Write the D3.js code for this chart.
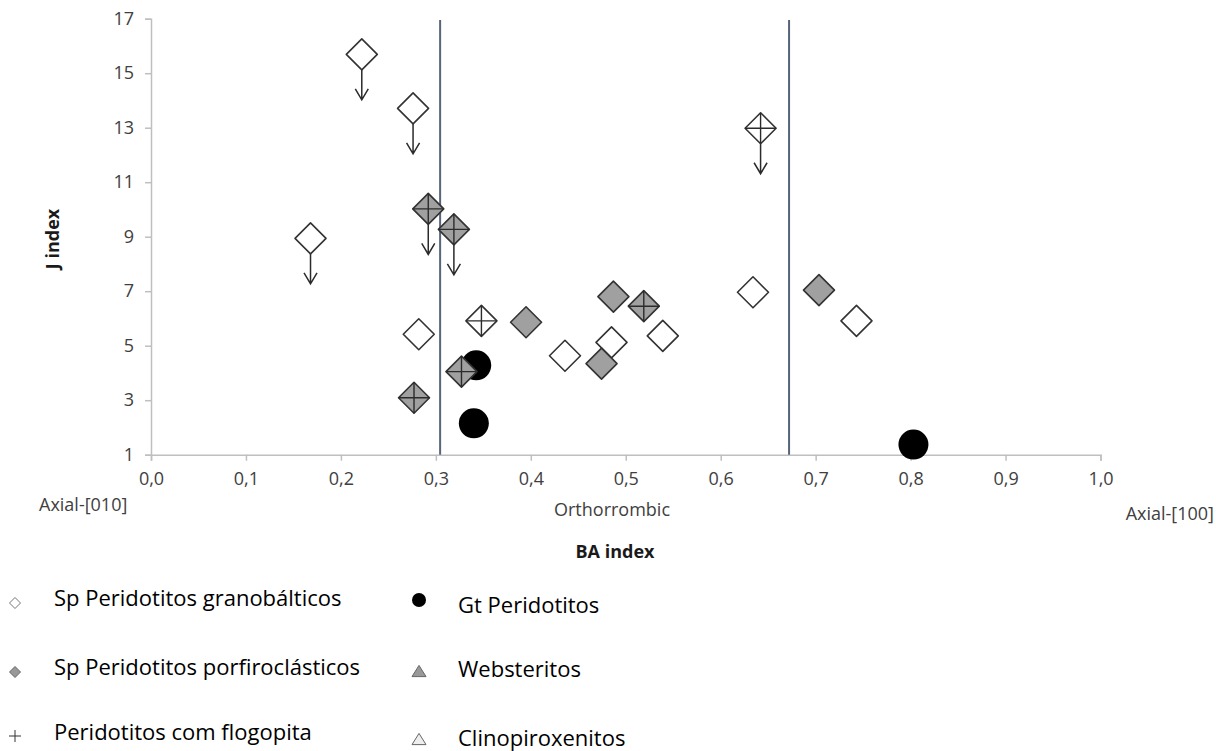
<!DOCTYPE html>
<html>
<head>
<meta charset="utf-8">
<script src="https://cdn.jsdelivr.net/npm/d3@7"></script>
<style>
  body { margin: 0; background: #fff; }
  text { font-family: "Open Sans", sans-serif; }
</style>
</head>
<body>
<svg id="chart" width="1216" height="751"></svg>
<script>
// DATA
// Sp Peridotitos granobálticos (open diamonds); limit = upper-limit arrow
var granoBA    = [0.222, 0.276, 0.168, 0.282, 0.436, 0.485, 0.539, 0.634, 0.743];
var granoJ     = [15.69, 13.71, 8.94, 5.42, 4.63, 5.12, 5.36, 6.96, 5.91];
var granoLimit = [true, true, true, false, false, false, false, false, false];
// open diamonds with phlogopite cross
var granoFlogBA    = [0.642, 0.348];
var granoFlogJ     = [12.98, 5.91];
var granoFlogLimit = [true, false];
// Sp Peridotitos porfiroclásticos (grey diamonds)
var porfBA = [0.395, 0.487, 0.4745, 0.7035];
var porfJ  = [5.86, 6.80, 4.34, 7.04];
// grey diamonds with phlogopite cross
var porfFlogBA    = [0.292, 0.319, 0.327, 0.277, 0.519];
var porfFlogJ     = [10.02, 9.27, 4.05, 3.09, 6.45];
var porfFlogLimit = [true, true, false, false, false];
// Gt Peridotitos (black circles)
var gtBA = [0.3425, 0.340, 0.803];
var gtJ  = [4.28, 2.15, 1.37];
// field boundaries on BA index
var boundaries = [0.3045, 0.672];

var xTicks = [0, 0.1, 0.2, 0.3, 0.4, 0.5, 0.6, 0.7, 0.8, 0.9, 1.0];
var yTicks = [1, 3, 5, 7, 9, 11, 13, 15, 17];

var legendCol1 = ["Sp Peridotitos granobálticos", "Sp Peridotitos porfiroclásticos", "Peridotitos com flogopita"];
var legendCol2 = ["Gt Peridotitos", "Websteritos", "Clinopiroxenitos"];

// LAYOUT
var svg = d3.select("#chart");
var x = d3.scaleLinear().domain([0, 1]).range([151, 1100.5]);
var y = d3.scaleLinear().domain([1, 17]).range([454.7, 18.7]);
var axisColor = "#bfbfbf", labelColor = "#404040";
var half = 15.5;   // diamond half diagonal
var arrowLen = 30;

var zip = function(xs, ys, lim) {
  return xs.map(function(v, i) { return {x: v, y: ys[i], limit: lim ? lim[i] : false}; });
};

// axes
var xAxis = svg.append("g").attr("transform", "translate(0," + y(1) + ")")
  .call(d3.axisBottom(x).tickValues(xTicks).tickSize(6).tickPadding(12)
    .tickFormat(function(d) { return d3.format(".1f")(d).replace(".", ","); }));
var yAxis = svg.append("g").attr("transform", "translate(" + x(0) + ",0)")
  .call(d3.axisLeft(y).tickValues(yTicks).tickSize(6).tickPadding(11));
[xAxis, yAxis].forEach(function(a) {
  a.select(".domain").attr("stroke", axisColor).attr("stroke-width", 1.5);
  a.selectAll(".tick line").attr("stroke", axisColor).attr("stroke-width", 1.5);
  a.selectAll(".tick text").attr("fill", labelColor).style("font-size", "18px")
    .style("font-family", "'Open Sans', sans-serif");
});

// boundary lines
svg.selectAll(".bound").data(boundaries).enter().append("line")
  .attr("x1", function(d) { return x(d); }).attr("x2", function(d) { return x(d); })
  .attr("y1", 20).attr("y2", y(1))
  .attr("stroke", "#56657a").attr("stroke-width", 2);

// marker helpers
var diamondPath = function(d) {
  var cx = x(d.x), cy = y(d.y);
  return "M" + cx + "," + (cy - half) + "L" + (cx + half) + "," + cy +
         "L" + cx + "," + (cy + half) + "L" + (cx - half) + "," + cy + "Z";
};
var crossPath = function(d) {
  var cx = x(d.x), cy = y(d.y);
  return "M" + (cx - half) + "," + cy + "H" + (cx + half) +
         "M" + cx + "," + (cy - half) + "V" + (cy + half);
};
var arrowPath = function(d) {
  var cx = x(d.x), top = y(d.y) + half, tip = top + arrowLen;
  return "M" + cx + "," + top + "V" + tip +
         "M" + (cx - 6.5) + "," + (tip - 11) + "L" + cx + "," + tip + "L" + (cx + 6.5) + "," + (tip - 11);
};

var drawDiamonds = function(data, fill, cross) {
  var g = svg.append("g");
  g.selectAll(".arrow").data(data.filter(function(d) { return d.limit; })).enter()
    .append("path").attr("d", arrowPath)
    .attr("fill", "none").attr("stroke", "#2b2b2b").attr("stroke-width", 1.5);
  g.selectAll(".dia").data(data).enter().append("path")
    .attr("d", diamondPath).attr("fill", fill)
    .attr("stroke", "#333").attr("stroke-width", 1.6).attr("stroke-linejoin", "round");
  if (cross) {
    g.selectAll(".cross").data(data).enter().append("path")
      .attr("d", crossPath).attr("fill", "none")
      .attr("stroke", "#2b2b2b").attr("stroke-width", 1.4);
  }
};

// Gt circles first (behind)
svg.append("g").selectAll("circle").data(zip(gtBA, gtJ)).enter().append("circle")
  .attr("cx", function(d) { return x(d.x); }).attr("cy", function(d) { return y(d.y); })
  .attr("r", 15).attr("fill", "#000");

drawDiamonds(zip(granoBA, granoJ, granoLimit), "#fff", false);
drawDiamonds(zip(granoFlogBA, granoFlogJ, granoFlogLimit), "#fff", true);
drawDiamonds(zip(porfBA, porfJ), "#a0a0a0", false);
drawDiamonds(zip(porfFlogBA, porfFlogJ, porfFlogLimit), "#a0a0a0", true);

// axis titles and annotations
svg.append("text").attr("x", 39).attr("y", 511).attr("fill", labelColor)
  .style("font-size", "18px").text("Axial-[010]");
svg.append("text").attr("x", 612).attr("y", 516).attr("text-anchor", "middle").attr("fill", labelColor)
  .style("font-size", "18px").text("Orthorrombic");
svg.append("text").attr("x", 1214).attr("y", 520).attr("text-anchor", "end").attr("fill", labelColor)
  .style("font-size", "18px").text("Axial-[100]");
svg.append("text").attr("x", 615).attr("y", 558).attr("text-anchor", "middle").attr("fill", "#1a1a1a")
  .style("font-size", "18px").style("font-weight", "bold").text("BA index");
svg.append("text").attr("transform", "translate(59,239) rotate(-90)").attr("text-anchor", "middle")
  .attr("fill", "#1a1a1a").style("font-size", "18px").style("font-weight", "bold").text("J index");

// legend
var rowY1 = [606, 675, 740], rowY2 = [613, 677, 746];
var lg = svg.append("g");
lg.selectAll(".l1").data(legendCol1).enter().append("text")
  .attr("x", 54).attr("y", function(d, i) { return rowY1[i]; })
  .style("font-size", "22px").attr("fill", "#000").text(function(d) { return d; });
lg.selectAll(".l2").data(legendCol2).enter().append("text")
  .attr("x", 458).attr("y", function(d, i) { return rowY2[i]; })
  .style("font-size", "22px").attr("fill", "#000").text(function(d) { return d; });

var smallDia = function(cx, cy, h) {
  return "M" + cx + "," + (cy - h) + "L" + (cx + h) + "," + cy + "L" + cx + "," + (cy + h) + "L" + (cx - h) + "," + cy + "Z";
};
var tri = function(cx, cy, s) {
  return "M" + (cx - s) + "," + (cy + s * 0.8) + "L" + cx + "," + (cy - s * 0.8) + "L" + (cx + s) + "," + (cy + s * 0.8) + "Z";
};
lg.append("path").attr("d", smallDia(15, 603, 5.5)).attr("fill", "#fff").attr("stroke", "#777").attr("stroke-width", 1);
lg.append("path").attr("d", smallDia(15, 672, 5.5)).attr("fill", "#999").attr("stroke", "#666").attr("stroke-width", 1);
lg.append("path").attr("d", "M9,736H21M15,730V742").attr("stroke", "#333").attr("stroke-width", 1);
lg.append("circle").attr("cx", 419).attr("cy", 600).attr("r", 7).attr("fill", "#000");
lg.append("path").attr("d", tri(419, 671, 7)).attr("fill", "#999").attr("stroke", "#666").attr("stroke-width", 1);
lg.append("path").attr("d", tri(419, 739, 7)).attr("fill", "#eee").attr("stroke", "#666").attr("stroke-width", 1);
</script>
</body>
</html>
